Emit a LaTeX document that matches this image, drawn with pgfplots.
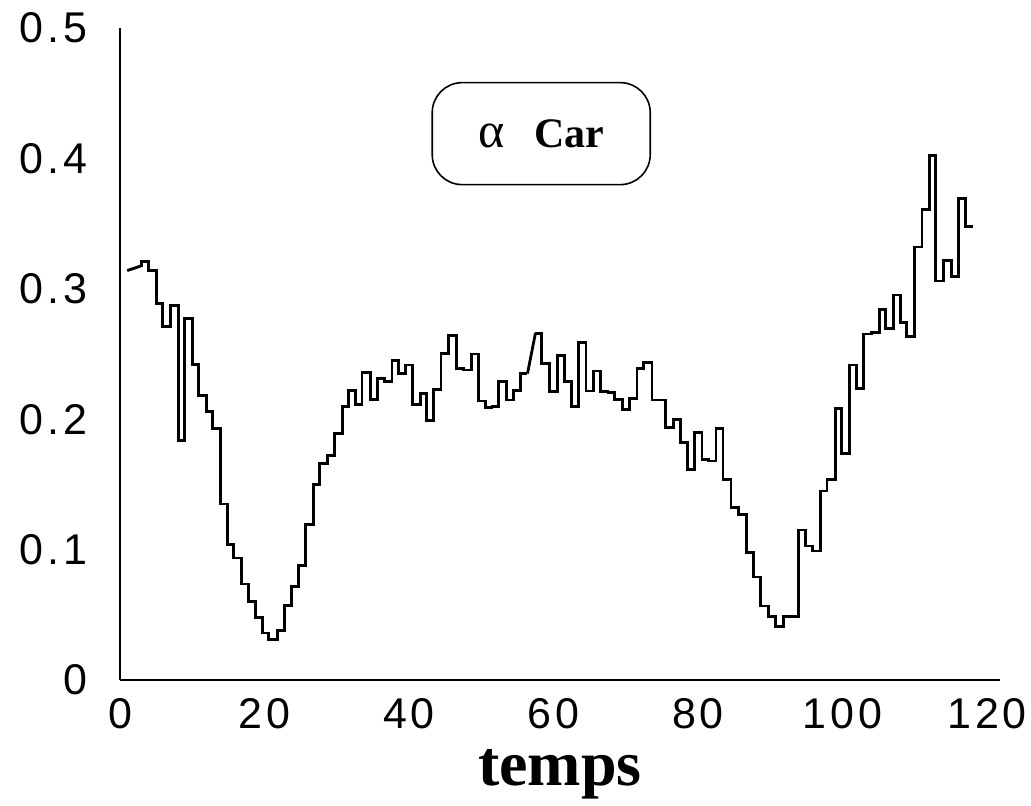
\documentclass[border=0pt]{standalone}
\usepackage{fontspec}
\usepackage{pgfplots}
\pgfplotsset{compat=1.18}
\setmainfont{Liberation Serif}
\newfontfamily\tickfont[LetterSpace=9]{Liberation Sans}

\begin{document}
\begin{tikzpicture}
\begin{axis}[
    scale only axis,
    width=440pt, height=326pt,
    xmin=0, xmax=121.8, ymin=0, ymax=0.5,
    axis x line*=bottom, axis y line*=left,
    axis line style={line width=1pt, -},
    every outer x axis line/.append style={-},
    every outer y axis line/.append style={-},
    xtick={0,20,40,60,80,100,120},
    ytick={0,0.1,0.2,0.3,0.4,0.5},
    major tick length=0pt,
    /pgf/number format/assume math mode=true,
    ticklabel style={font=\fontsize{21.5}{25}\selectfont\tickfont},
    xticklabel style={yshift=-5.5pt},
    yticklabel style={xshift=-13pt},
    xlabel={\bfseries temps},
    xlabel style={font=\fontsize{32}{36}\selectfont, at={(axis description cs:0.5,0)}, anchor=base, yshift=-52.5pt},
    clip=false,
]
% slanted start
\addplot[black, line width=1.4pt] coordinates {(1.0,0.314) (2.9,0.3175)};
% steps up to t=56
\addplot[black, line width=1.4pt, const plot] coordinates {
    (2.9,0.3175) (2.97,0.321) (3.99,0.314) (5.0,0.289) (5.92,0.271)
    (6.99,0.2875) (8.05,0.1835) (8.88,0.277) (9.99,0.242) (10.82,0.218)
    (11.93,0.206) (12.84,0.193) (13.9,0.135) (14.83,0.104) (15.75,0.0935)
    (16.77,0.0736) (17.82,0.060) (18.75,0.048) (19.76,0.036) (20.6,0.031)
    (21.75,0.038) (22.76,0.057) (23.73,0.072) (24.66,0.088) (25.67,0.119)
    (26.8,0.150) (27.65,0.166) (28.67,0.172) (29.68,0.189) (30.75,0.210)
    (31.66,0.222) (32.6,0.211) (33.5,0.236) (34.66,0.215) (35.6,0.231)
    (36.6,0.229) (37.66,0.245) (38.58,0.235) (39.5,0.2415) (40.5,0.211)
    (41.58,0.220) (42.41,0.199) (43.42,0.223) (44.44,0.2505) (45.5,0.264)
    (46.52,0.239) (47.57,0.2377) (48.6,0.250) (49.65,0.214) (50.57,0.209)
    (51.5,0.210) (52.4,0.229) (53.48,0.2147) (54.5,0.222) (55.4,0.235)
    (56.4,0.235)
};
% slanted rise near t=57
\addplot[black, line width=1.4pt] coordinates {(56.4,0.235) (57.5,0.266)};
% steps to the end
\addplot[black, line width=1.4pt, const plot] coordinates {
    (57.5,0.266) (58.3,0.243) (59.5,0.221) (60.55,0.249) (61.55,0.2287)
    (62.5,0.210) (63.5,0.2586) (64.5,0.2216) (65.5,0.237) (66.5,0.221)
    (67.55,0.2205) (68.47,0.2152) (69.5,0.2072) (70.5,0.216) (71.56,0.239)
    (72.48,0.2433) (73.64,0.2147) (75.5,0.1938) (76.6,0.200) (77.56,0.182)
    (78.5,0.1616) (79.5,0.190) (80.56,0.169) (81.5,0.168) (82.5,0.1926)
    (83.46,0.154) (84.57,0.132) (85.6,0.127) (86.7,0.0977) (87.7,0.079)
    (88.7,0.0567) (89.8,0.049) (90.7,0.041) (91.8,0.049) (93.9,0.115)
    (94.85,0.1028) (95.9,0.099) (96.9,0.145) (97.85,0.154) (99.0,0.208)
    (99.9,0.174) (100.94,0.2416) (101.9,0.2237) (102.9,0.2653) (104.0,0.2666)
    (105.1,0.2843) (106.0,0.2697) (107.1,0.2952) (108.0,0.274) (108.9,0.2633)
    (110.0,0.332) (111.0,0.361) (112.0,0.402) (112.9,0.306) (114.0,0.3216)
    (115.05,0.3097) (116.06,0.3694) (117.0,0.348) (118.06,0.348)
};
\node[draw, line width=0.8pt, rounded corners=15pt, minimum width=109pt,
      minimum height=51pt, font=\fontsize{21}{25}\selectfont]
      at (axis cs:58.3,0.419) {{\fontsize{25}{28}\selectfont α}\hspace{0.7em}\textbf{Car}};
\end{axis}
\pgfresetboundingbox
\path (current axis.south west) ++(-60pt,-62.5pt) rectangle ++(515.5pt,402.5pt);
\end{tikzpicture}
\end{document}
